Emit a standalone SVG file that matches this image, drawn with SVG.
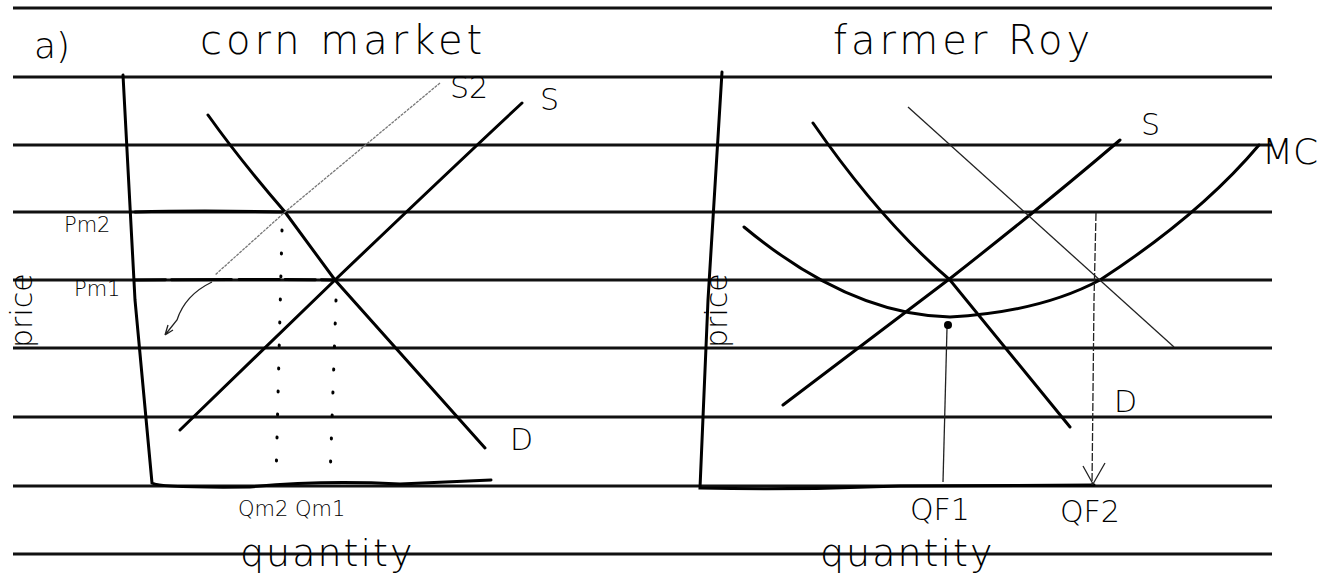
<svg xmlns="http://www.w3.org/2000/svg" width="1338" height="583" viewBox="0 0 1338 583">
<style>
.rule{stroke:#111;stroke-width:3;fill:none}
.ax{stroke:#000;stroke-width:3;fill:none;stroke-linecap:round}
.cv{stroke:#000;stroke-width:3;fill:none;stroke-linecap:round}
.thin{stroke:#222;stroke-width:1.3;fill:none}
.light{stroke:#777;stroke-width:1.3;fill:none;stroke-dasharray:3 1}
.dot{stroke:#000;stroke-width:3;fill:none;stroke-dasharray:1 22;stroke-linecap:round}
.t{font-family:"DejaVu Sans","Liberation Sans",sans-serif;fill:#000;font-weight:300}
.big{font-size:36px}
.ttl{font-size:40px;letter-spacing:4px}
.mid{font-size:30px}
.sm{font-size:21px}
.q{font-size:38px;letter-spacing:2px}
</style>
<rect width="1338" height="583" fill="#fff"/>
<g id="ruled">
<line class="rule" x1="13" y1="8" x2="1272" y2="8"/>
<line class="rule" x1="13" y1="77" x2="1272" y2="77"/>
<line class="rule" x1="13" y1="145" x2="1272" y2="145"/>
<line class="rule" x1="13" y1="212" x2="1272" y2="212"/>
<line class="rule" x1="13" y1="280" x2="1272" y2="280"/>
<line class="rule" x1="13" y1="348" x2="1272" y2="348"/>
<line class="rule" x1="13" y1="417" x2="1272" y2="417"/>
<line class="rule" x1="13" y1="486" x2="1272" y2="486"/>
<line class="rule" x1="13" y1="554" x2="1272" y2="554"/>
</g>
<g id="titles">
<text class="t big" x="34" y="58">a)</text>
<text class="t ttl" x="200" y="54">corn market</text>
<text class="t ttl" x="833" y="54">farmer Roy</text>
</g>
<g id="left-graph">
<path class="ax" d="M123 75 L135 300 L152 483 Q160 488 250 487 Q320 480 400 484 L491 480"/>
<path class="ax" d="M135 212 Q200 210 285 212"/>
<path class="ax" d="M135 280 Q250 279 335 280" stroke-dasharray="30 6 60 8 40 6"/>
<path class="cv" d="M208 115 Q240 160 285 212 L335 280 L485 448"/>
<path class="cv" d="M180 430 L335 280 Q450 170 522 103"/>
<path class="light" d="M440 83 L285 212 L215 275"/>
<path class="thin" d="M212 282 Q185 295 177 320 L165 335 M165 335 L168 325 M165 335 L173 330"/>
<line class="dot" x1="282" y1="230" x2="276" y2="480"/>
<line class="dot" x1="336" y1="300" x2="330" y2="480"/>
<text class="t sm" x="64" y="232">Pm2</text>
<text class="t sm" x="74" y="296">Pm1</text>
<text class="t mid" x="450" y="98">S2</text>
<text class="t mid" x="540" y="110">S</text>
<text class="t mid" x="510" y="450">D</text>
<text class="t sm" x="238" y="516">Qm2 Qm1</text>
<text class="t q" x="240" y="566">quantity</text>
<text class="t mid" transform="translate(32 348) rotate(-90)">price</text>
</g>
<g id="right-graph">
<path class="ax" d="M722 72 L708 300 L700 488 Q800 490 900 486 L1094 485"/>
<path class="cv" d="M813 123 Q880 220 950 280 L1070 427"/>
<path class="cv" d="M783 405 L952 277 Q1050 200 1120 140"/>
<path class="cv" d="M744 227 Q850 315 950 317 Q1040 312 1100 280 Q1200 215 1259 145"/>
<line class="thin" x1="908" y1="107" x2="1174" y2="347" stroke="#444"/>
<line class="thin" x1="947" y1="328" x2="943" y2="482"/>
<circle cx="948" cy="325" r="4" fill="#000"/>
<path class="thin" d="M1096 213 L1094 300 L1092 485" stroke-dasharray="8 2"/>
<path class="thin" d="M1083 466 L1093 484 L1105 463" stroke-width="2"/>
<text class="t mid" x="1141" y="135">S</text>
<text class="t big" x="1262" y="164">MC</text>
<text class="t mid" x="1114" y="412">D</text>
<text class="t mid" x="910" y="520">QF1</text>
<text class="t mid" x="1060" y="522">QF2</text>
<text class="t q" x="820" y="566">quantity</text>
<text class="t mid" transform="translate(727 348) rotate(-90)">price</text>
</g>
</svg>
